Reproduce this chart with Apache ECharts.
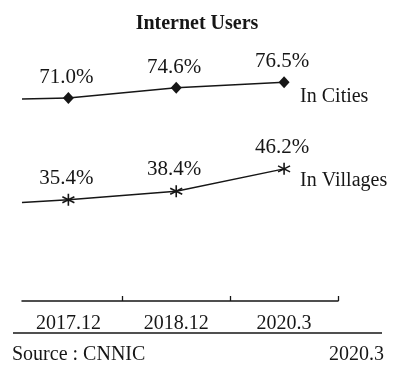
<!DOCTYPE html>
<html>
<head>
<meta charset="utf-8">
<script src="https://cdn.jsdelivr.net/npm/echarts@6/dist/echarts.min.js"></script>
<style>
html,body{margin:0;padding:0;background:#fff;}
#c{width:394px;height:365px;}
</style>
</head>
<body>
<div id="c"></div>
<script>
const categories = ['2017.12', '2018.12', '2020.3'];
const cities = [71.0, 74.6, 76.5];
const villages = [35.4, 38.4, 46.2];
// where each line starts at the left edge of the axis
const leadX = -0.43;
const citiesLead = 70.6;
const villagesLead = 34.4;
const titleText = 'Internet Users';
const sourceText = 'Source : CNNIC';
const dateText = '2020.3';

const FONT = 'Liberation Serif';
const INK = '#161616';

const chart = echarts.init(document.getElementById('c'), null, {renderer: 'canvas'});

const pts = arr => arr.map((v, i) => [i, v]);
const asterisk = 'path://M5 0L5 10M0.67 2.5L9.33 7.5M0.67 7.5L9.33 2.5';

const labelCommon = {
  show: true,
  position: 'top',
  distance: 4,
  offset: [-2, 0],
  fontFamily: FONT,
  fontSize: 21,
  color: INK,
  formatter: p => p.value[1].toFixed(1) + '%'
};

chart.setOption({
  backgroundColor: '#fff',
  animation: false,
  title: {
    text: titleText,
    left: 'center',
    top: 9,
    textStyle: {fontFamily: FONT, fontSize: 20, fontWeight: 'bold', color: INK}
  },
  grid: {left: 22, right: 56, top: 15, bottom: 64},
  xAxis: {
    type: 'value',
    min: leadX,
    max: categories.length - 0.5,
    splitLine: {show: false},
    axisLine: {show: true, lineStyle: {color: INK, width: 1.5}},
    axisTick: {
      show: true, inside: true, length: 5,
      customValues: categories.map((c, i) => i + 0.5),
      lineStyle: {color: INK, width: 1.3}
    },
    axisLabel: {
      show: true,
      customValues: categories.map((c, i) => i),
      formatter: v => categories[Math.round(v)],
      margin: 13,
      fontFamily: FONT,
      fontSize: 20,
      color: INK
    }
  },
  yAxis: {
    type: 'value', min: 0, max: 100, show: false
  },
  series: [
    {
      type: 'line', silent: true, symbol: 'none',
      data: [[leadX, citiesLead], [0, cities[0]]],
      lineStyle: {color: INK, width: 1.5}
    },
    {
      type: 'line', silent: true, symbol: 'none',
      data: [[leadX, villagesLead], [0, villages[0]]],
      lineStyle: {color: INK, width: 1.5}
    },
    {
      name: 'In Cities',
      type: 'line',
      data: pts(cities),
      symbol: 'diamond',
      symbolSize: [11, 12],
      itemStyle: {color: INK},
      lineStyle: {color: INK, width: 1.5},
      label: labelCommon,
      endLabel: {
        show: true, formatter: 'In Cities', distance: 16, offset: [0, 15],
        fontFamily: FONT, fontSize: 20, color: INK
      }
    },
    {
      name: 'In Villages',
      type: 'line',
      data: pts(villages),
      symbol: asterisk,
      symbolSize: 12,
      itemStyle: {color: INK, borderColor: INK, borderWidth: 1.6},
      lineStyle: {color: INK, width: 1.5},
      label: labelCommon,
      endLabel: {
        show: true, formatter: 'In Villages', distance: 16, offset: [0, 12],
        fontFamily: FONT, fontSize: 20, color: INK
      }
    }
  ],
  graphic: [
    {type: 'line', shape: {x1: 13, y1: 333, x2: 382, y2: 333}, style: {stroke: INK, lineWidth: 1.5}},
    {type: 'text', left: 12, top: 345, style: {text: sourceText, font: '20px "Liberation Serif"', fill: INK}},
    {type: 'text', right: 10, top: 345, style: {text: dateText, font: '20px "Liberation Serif"', fill: INK}}
  ]
});
</script>
</body>
</html>
